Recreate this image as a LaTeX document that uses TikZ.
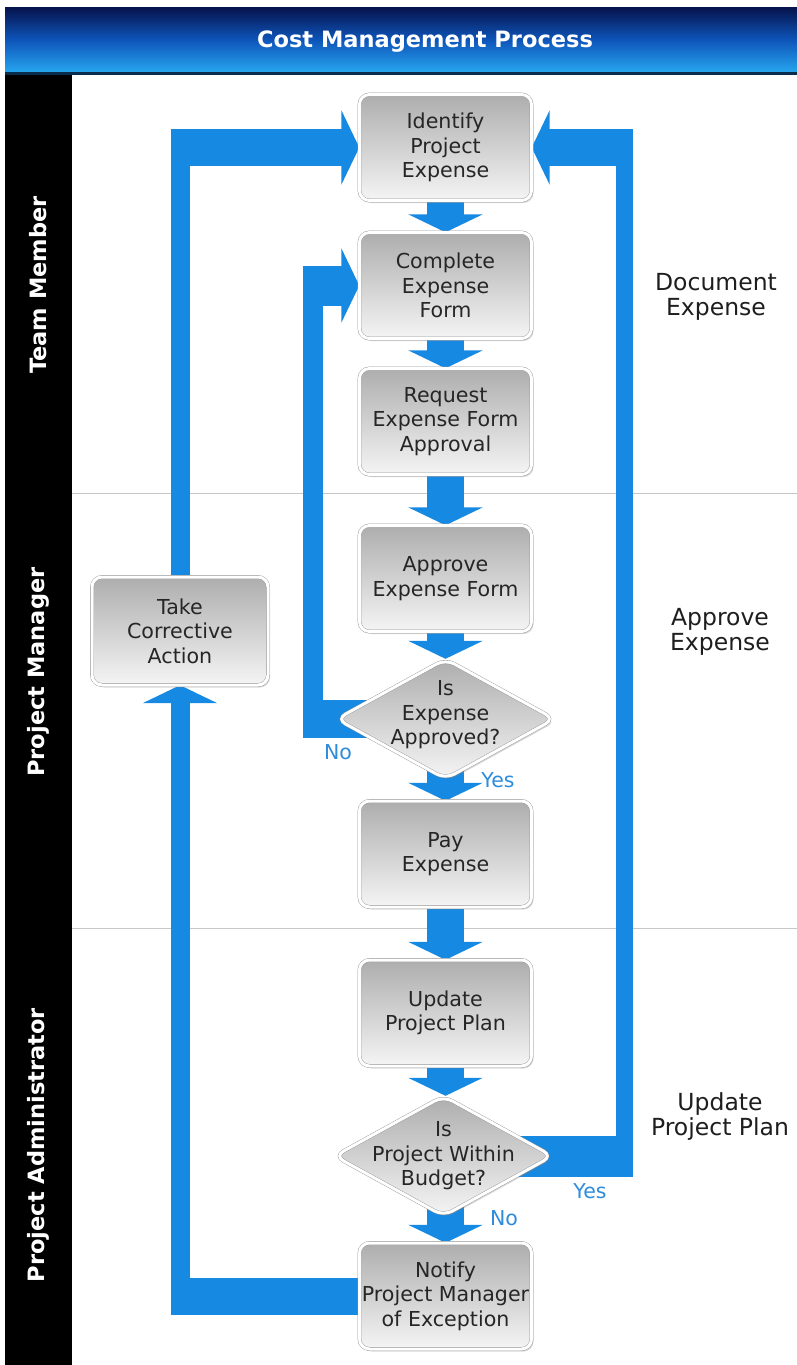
\documentclass[tikz,border=0pt]{standalone}
\usepackage{fontspec}
\setmainfont{DejaVu Sans}
\usetikzlibrary{arrows.meta,shapes.geometric,shadows,backgrounds,calc}
\definecolor{flowblue}{RGB}{22,137,226}
\definecolor{lblblue}{RGB}{45,140,220}
\definecolor{boxtext}{RGB}{38,38,38}
\definecolor{sidetext}{RGB}{30,30,30}
\definecolor{hdrtop}{RGB}{6,18,75}
\definecolor{hdrmid}{RGB}{14,84,185}
\definecolor{hdrbot}{RGB}{38,165,238}
\definecolor{hdrline}{RGB}{10,45,75}
\begin{document}
\begin{tikzpicture}[x=1pt,y=-1pt,
  box/.style={rectangle, rounded corners=10pt, minimum width=172pt, minimum height=106pt,
    draw=black!42, double=white, double distance=3pt,
    top color=black!32, bottom color=black!4,
    drop shadow={opacity=0.3, shadow xshift=2pt, shadow yshift=-2.5pt},
    text=boxtext, align=center, inner sep=0pt,
    font=\fontsize{20.6}{24.5}\selectfont},
  dia/.style={diamond, rounded corners=10pt, minimum width=218pt, minimum height=120pt,
    inner sep=0pt, draw=black!42, double=white, double distance=3pt,
    top color=black!32, bottom color=black!4,
    drop shadow={opacity=0.3, shadow xshift=2pt, shadow yshift=-2.5pt}},
  dtext/.style={text=boxtext, align=center, inner sep=0pt,
    font=\fontsize{20.6}{24.5}\selectfont},
  flow/.style={draw=flowblue, line width=37pt},
  vband/.style={draw=flowblue, line width=19pt},
  tip/.style={-{Triangle[length=18pt,width=74pt]}},
  lbl/.style={text=lblblue, inner sep=0pt, font=\fontsize{20.5}{24}\selectfont},
  side/.style={text=sidetext, align=center, inner sep=0pt, font=\fontsize{23.5}{25}\selectfont},
  lane/.style={text=white, rotate=90, inner sep=0pt, font=\fontsize{22.5}{24}\selectfont\bfseries},
]
\useasboundingbox (0,0) rectangle (797,1365);

% nodes
\node[box] (ident) at (445.5,147.5) {Identify\\Project\\Expense};
\node[box] (complete) at (445.5,285.5) {Complete\\Expense\\Form};
\node[box] (request) at (445.5,421.5) {Request\\Expense Form\\Approval};
\node[box] (approve) at (445.5,578.5) {Approve\\Expense Form};
\node[dia] (d1) at (445.5,719) {};
\node[dtext] (d1t) at ($(d1.center)+(0,-4)$) {Is\\Expense\\Approved?};
\node[box] (pay) at (445.5,854) {Pay\\Expense};
\node[box] (update) at (445.5,1013) {Update\\Project Plan};
\node[dia] (d2) at (443.5,1156) {};
\node[dtext] (d2t) at (d2.center) {Is\\Project Within\\Budget?};
\node[box] (notify) at (445.5,1296) {Notify\\Project Manager\\of Exception};
\node[box, minimum width=176pt, minimum height=108pt] (take) at (180,631) {Take\\Corrective\\Action};

% labels
\node[lbl] (noA) at (338,752) {No};
\node[lbl] (yesA) at (498,780) {Yes};
\node[lbl] (yesB) at (590,1191) {Yes};
\node[lbl] (noB) at (504,1218) {No};

\node[side] (sDoc) at (716,297) {Document\\Expense};
\node[side] (sApp) at (720,632) {Approve\\Expense};
\node[side] (sUpd) at (720,1117) {Update\\Project Plan};

\begin{pgfonlayer}{background}
  \fill[white] (0,0) rectangle (797,1365);
  % header
  \fill[top color=hdrtop, bottom color=hdrbot, middle color=hdrmid] (5,7) rectangle (797,72);
  \fill[hdrline] (5,72) rectangle (797,75);
  \node[text=white, font=\fontsize{22.5}{24}\selectfont\bfseries] (title) at (425,42) {Cost Management Process};
  % lane band
  \fill[black] (5,75) rectangle (72,1365);
  \node[lane] (lTeam) at (38,285) {Team Member};
  \node[lane] (lPM) at (38,672) {Project Manager};
  \node[lane] (lPA) at (38,1145) {Project Administrator};
  % lane separators
  \draw[black!22, line width=1pt] (72,493) -- (797,493);
  \draw[black!22, line width=1pt] (72,928) -- (797,928);

  % main flow
  \draw[flow,tip] (ident.south) -- (complete.north);
  \draw[flow,tip] (complete.south) -- (request.north);
  \draw[flow,tip] (request.south) -- (approve.north);
  \draw[flow,tip] (approve.south) -- (d1.north);
  \draw[flow,tip] (d1.center) -- (pay.north);
  \draw[flow,tip] (pay.south) -- (update.north);
  \draw[flow,tip] (update.south) -- (update.south |- d2.north);
  \draw[flow,tip] (notify.north |- d2.center) -- (notify.north);

  % "No" loop back to Complete Expense Form
  \coordinate (noOut) at (303,0);
  \coordinate (noMid) at (313,0);
  \draw[flow, line width=38pt] (d1.center) -- (d1.center -| noOut);
  \draw[vband, line width=20pt] ($(d1.center -| noMid)+(0,19)$) -- ($(complete.west -| noMid)+(0,-20)$);
  \draw[flow, line width=40pt, tip] (complete.west -| noOut) -- (complete.west);

  % exception loop via Take Corrective Action
  \coordinate (lOut) at (170.5,0);
  \coordinate (lMid) at (180,0);
  \draw[flow] (notify.west) -- (notify.west -| lOut);
  \draw[vband, tip] ($(notify.west -| lMid)+(0,18.5)$) -- (take.south);
  \draw[vband] (take.north) -- ($(ident.west -| lMid)+(0,-18.5)$);
  \draw[flow, tip] (ident.west -| lOut) -- (ident.west);

  % "Yes" loop back to Identify Project Expense
  \coordinate (rOut) at (633,0);
  \coordinate (rMid) at (624.5,0);
  \draw[flow, line width=41pt] (d2.center) -- (d2.center -| rOut);
  \draw[vband, line width=17pt] ($(d2.center -| rMid)+(0,20.5)$) -- ($(ident.east -| rMid)+(0,-18.5)$);
  \draw[flow, tip] (ident.east -| rOut) -- (ident.east);
\end{pgfonlayer}
\end{tikzpicture}
\end{document}
